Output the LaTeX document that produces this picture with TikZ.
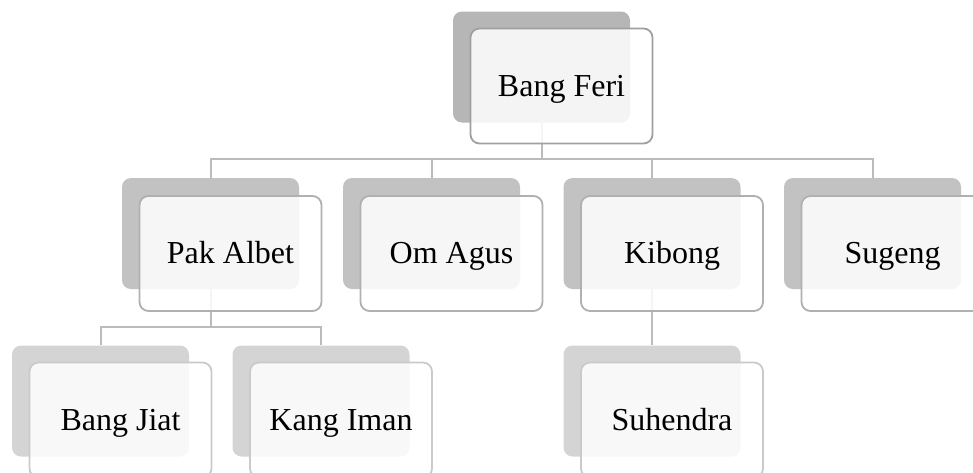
\documentclass[tikz,border=0pt]{standalone}
\usepackage{fontspec}
\setmainfont{Liberation Serif}
\definecolor{backA}{HTML}{B6B6B6}
\definecolor{backB}{HTML}{C2C2C2}
\definecolor{backC}{HTML}{D4D4D4}
\definecolor{edgeA}{HTML}{A0A0A0}
\definecolor{edgeB}{HTML}{B0B0B0}
\definecolor{edgeC}{HTML}{CACACA}
\definecolor{connc}{HTML}{BBBBBB}
\begin{document}
\begin{tikzpicture}[x=1pt,y=-1pt,
  backbox/.style={rectangle, rounded corners=9pt, minimum width=177pt, minimum height=111pt, inner sep=0pt, fill=#1},
  frontbox/.style={rectangle, rounded corners=9pt, minimum width=182pt, minimum height=115pt, inner sep=0pt, draw=#1, line width=1.8pt, fill=white, fill opacity=0.86, text opacity=1, text height=22pt, text depth=2pt, font=\fontsize{32}{38}\selectfont},
  conn/.style={draw=connc, line width=2pt}]
\useasboundingbox (0,0) rectangle (973,472);
\clip (0,0) rectangle (973,472);
% back boxes
\node[backbox=backA] (feriB) at (541.5,67) {};
\node[backbox=backB] (pakB) at (210.5,233.5) {};
\node[backbox=backB] (omB) at (431.5,233.5) {};
\node[backbox=backB] (kibB) at (652,233.5) {};
\node[backbox=backB] (sugB) at (872.5,233.5) {};
\node[backbox=backC] (jiatB) at (100.5,401) {};
\node[backbox=backC] (imanB) at (321,401) {};
\node[backbox=backC] (suhB) at (652,401) {};
% connectors
\coordinate (bar1) at (541.5,159);
\coordinate (bar2) at (210.5,327);
\draw[conn] (feriB.south) -- (bar1);
\draw[conn] (pakB.north) |- (bar1) -| (sugB.north);
\draw[conn] (omB.north) -- (omB.north |- bar1);
\draw[conn] (kibB.north) -- (kibB.north |- bar1);
\draw[conn] (pakB.south) -- (bar2);
\draw[conn] (jiatB.north) |- (bar2) -| (imanB.north);
\draw[conn] (kibB.south) -- (suhB.north);
% front boxes
\node[frontbox=edgeA] (feriF) at (561.5,86) {Bang Feri};
\node[frontbox=edgeB] (pakF) at (230.5,253.5) {Pak Albet};
\node[frontbox=edgeB] (omF) at (451.5,253.5) {Om Agus};
\node[frontbox=edgeB] (kibF) at (672,253.5) {Kibong};
\node[frontbox=edgeB] (sugF) at (892.5,253.5) {Sugeng};
\node[frontbox=edgeC] (jiatF) at (120.5,420) {Bang Jiat};
\node[frontbox=edgeC] (imanF) at (341,420) {Kang Iman};
\node[frontbox=edgeC] (suhF) at (672,420) {Suhendra};
\end{tikzpicture}
\end{document}
